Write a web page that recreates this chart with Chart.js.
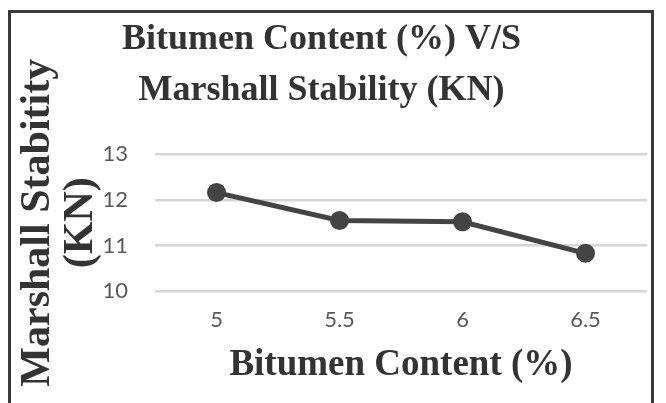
<!DOCTYPE html>
<html>
<head>
<meta charset="utf-8">
<script src="https://cdn.jsdelivr.net/npm/chart.js@4/dist/chart.umd.min.js"></script>
<style>
  html, body { margin: 0; padding: 0; background: #ffffff; overflow: hidden; }
  body { width: 666px; height: 403px; position: relative; }
  #frame {
    position: absolute; left: 8px; top: 10px; width: 646px; height: 420px;
    border: 3px solid #3a3a3a; box-sizing: border-box;
  }
  #wrap { position: absolute; left: -24px; top: 0; width: 690px; height: 403px; }
</style>
</head>
<body>
<div id="frame"></div>
<div id="wrap"><canvas id="chart" width="690" height="403"></canvas></div>
<script>
// Bitumen content (%) on the x axis
const bitumenContent = ['5', '5.5', '6', '6.5'];
// Marshall stability (KN) at each bitumen content
const marshallStability = [12.16, 11.55, 11.52, 10.83];
// Value axis range and step
const yMin = 10;
const yMax = 13;
const yStep = 1;

const serif = '"Liberation Serif", "Times New Roman", serif';
const tickFamily = 'Lato, "Liberation Sans", Arial, sans-serif';

new Chart(document.getElementById('chart'), {
  type: 'line',
  data: {
    labels: bitumenContent,
    datasets: [{
      data: marshallStability,
      borderColor: '#444444',
      backgroundColor: '#444444',
      borderWidth: 5,
      pointRadius: 7,
      pointStyle: 'circle',
      pointBackgroundColor: '#444444',
      pointBorderColor: '#444444',
      tension: 0,
      fill: false
    }]
  },
  options: {
    responsive: false,
    animation: false,
    devicePixelRatio: 1,
    layout: { padding: { left: 20, right: 19, top: 0, bottom: 15 } },
    plugins: {
      legend: { display: false },
      tooltip: { enabled: false },
      title: {
        display: true,
        text: ['Bitumen Content (%) V/S', 'Marshall Stability (KN)'],
        color: '#333333',
        font: { family: serif, size: 36, weight: 'bold', lineHeight: 1.42 },
        padding: { top: 14, bottom: 38 }
      }
    },
    scales: {
      x: {
        type: 'category',
        offset: true,
        grid: { display: false, drawTicks: false },
        border: { display: false },
        ticks: {
          color: '#595959',
          font: { family: tickFamily, size: 22 },
          padding: 16
        },
        title: {
          display: true,
          text: 'Bitumen Content (%)',
          color: '#333333',
          font: { family: serif, size: 37, weight: 'bold', lineHeight: 1.2 },
          padding: { top: -6, bottom: 0 }
        }
      },
      y: {
        min: yMin,
        max: yMax,
        grid: { color: '#d6d6d6', lineWidth: 2.5, drawTicks: false },
        border: { display: false },
        ticks: {
          stepSize: yStep,
          color: '#595959',
          font: { family: tickFamily, size: 22 },
          padding: 27
        },
        title: {
          display: true,
          text: ['Marshall Stabitity', '(KN)'],
          color: '#333333',
          font: { family: serif, size: 42, weight: 'bold', lineHeight: 1.024 },
          padding: { top: 20.5, bottom: -27 }
        }
      }
    }
  }
});
</script>
</body>
</html>
